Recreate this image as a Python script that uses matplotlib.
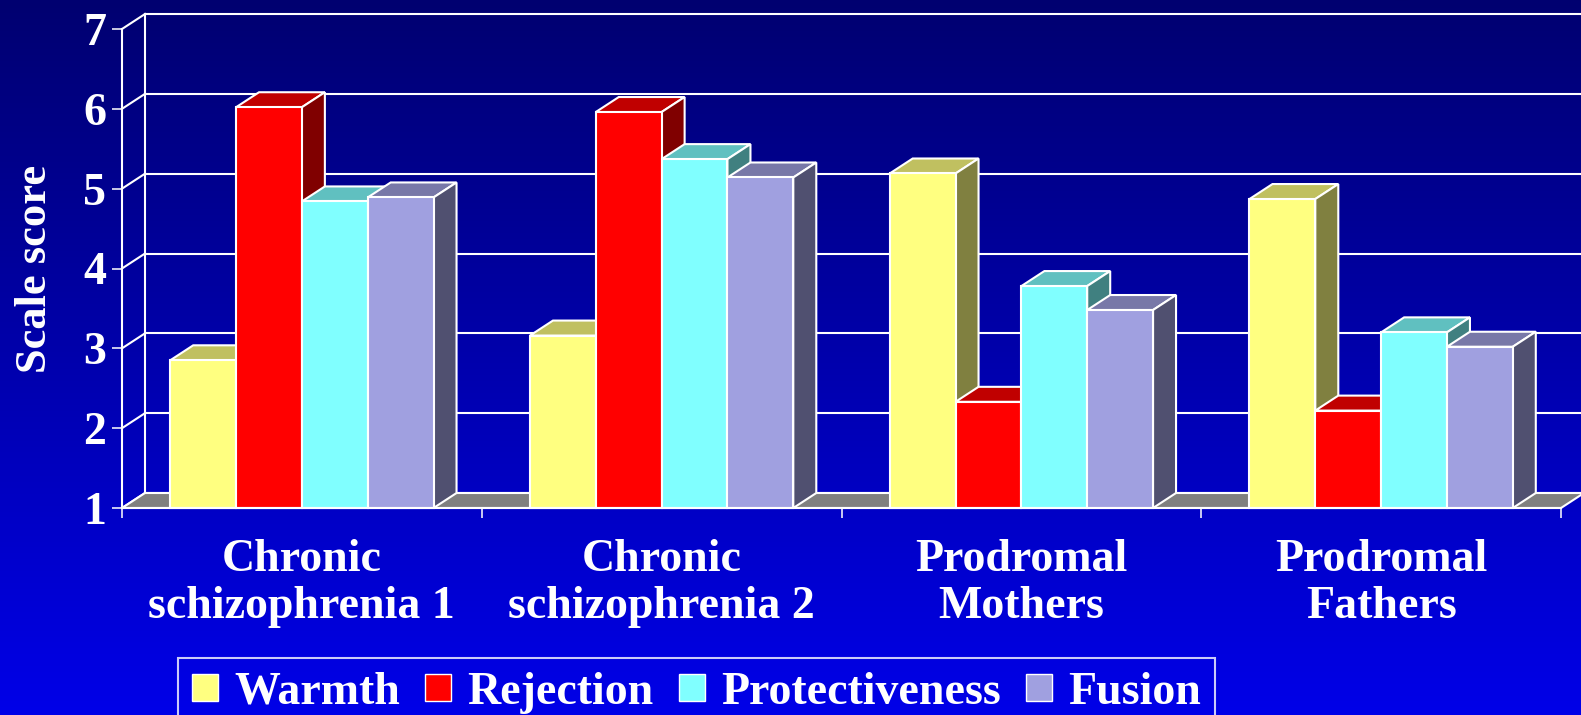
import matplotlib.pyplot as plt
import numpy as np
from matplotlib.patches import Polygon, Patch

plt.rcParams['font.family'] = 'Liberation Serif'
plt.rcParams['font.weight'] = 'bold'

# Data
groups = ["Chronic\nschizophrenia 1", "Chronic\nschizophrenia 2",
          "Prodromal\nMothers", "Prodromal\nFathers"]
scales = ["Warmth", "Rejection", "Protectiveness", "Fusion"]
warmth = [2.85, 3.16, 5.19, 4.87]
rejection = [6.02, 5.96, 2.33, 2.22]
protectiveness = [4.84, 5.37, 3.78, 3.20]
fusion = [4.89, 5.14, 3.48, 3.02]
yticks = [1, 2, 3, 4, 5, 6, 7]

series = [warmth, rejection, protectiveness, fusion]

# face shades for the pseudo-3D boxes
front_colors = ["#FFFF80", "#FF0000", "#80FFFF", "#A0A0E0"]
top_colors = ["#C0C060", "#C00000", "#60C0C0", "#7878A8"]
side_colors = ["#808040", "#800000", "#408080", "#505070"]

fig = plt.figure(figsize=(15.81, 7.15), dpi=100)

# blue gradient background
bg = fig.add_axes([0, 0, 1, 1], zorder=0)
t = np.linspace(0, 1, 256)[:, None, None]
c_top = np.array([0, 0, 0x70]) / 255
c_bot = np.array([0, 0, 0xE8]) / 255
bg.imshow(c_top + (c_bot - c_top) * t, aspect='auto', extent=[0, 1, 0, 1], origin='upper')
bg.axis('off')

ax = fig.add_axes([122 / 1581, 207 / 715, 1439 / 1581, 479 / 715], zorder=1)
ax.patch.set_alpha(0)
ax.set_xlim(0, 4)
ax.set_ylim(1, 7)

# depth offset of the back plane, in data units
dx = 23 / 1439 * 4
dy = 15 / 479 * 6
lw = 1.5

# back wall gridlines, left wall diagonals
for v in yticks:
    ax.plot([dx, 4 + dx], [v + dy, v + dy], color='white', lw=lw, clip_on=False, zorder=1)
    ax.plot([0, dx], [v, v + dy], color='white', lw=lw, clip_on=False, zorder=1)
ax.plot([dx, dx], [1 + dy, 7 + dy], color='white', lw=lw, clip_on=False, zorder=1)

# floor
ax.add_patch(Polygon([(0, 1), (4, 1), (4 + dx, 1 + dy), (dx, 1 + dy)],
                     facecolor='#808080', edgecolor='white', lw=lw, clip_on=False, zorder=2))

bw = 0.183
centers = np.arange(len(groups)) + 0.5
for si, vals in enumerate(series):
    xs = centers - 2 * bw + si * bw
    bars = ax.bar(xs, np.array(vals) - 1, bw, bottom=1, align='edge',
                  color=front_colors[si], edgecolor='white', lw=lw, clip_on=False)
    for gi, (x0, v) in enumerate(zip(xs, vals)):
        z = 3 + gi * 10 + si * 2
        x1 = x0 + bw
        bars[gi].set_zorder(z + 1)
        ax.add_patch(Polygon([(x0, v), (x1, v), (x1 + dx, v + dy), (x0 + dx, v + dy)],
                             facecolor=top_colors[si], edgecolor='white', lw=lw,
                             clip_on=False, zorder=z))
        ax.add_patch(Polygon([(x1, 1), (x1, v), (x1 + dx, v + dy), (x1 + dx, 1 + dy)],
                             facecolor=side_colors[si], edgecolor='white', lw=lw,
                             clip_on=False, zorder=z))

# axes styling
for s in ['top', 'right']:
    ax.spines[s].set_visible(False)
for s in ['left', 'bottom']:
    ax.spines[s].set_color('white')
    ax.spines[s].set_linewidth(lw)
    ax.spines[s].set_zorder(50)

ax.set_yticks(yticks)
ax.tick_params(axis='y', colors='white', length=7.2, width=1.1, pad=4, labelsize=33)
ax.set_xticks(range(5), [''] * 5)
ax.tick_params(axis='x', which='major', colors='white', length=7.2, width=1.1)
ax.set_xticks(centers, groups, minor=True)
ax.tick_params(axis='x', which='minor', length=0, pad=22, labelsize=33, labelcolor='white')
for lbl in ax.get_xticklabels(minor=True):
    lbl.set_linespacing(1.18)

ax.set_ylabel('Scale score', fontsize=32, fontweight='bold', color='white', va='center')
ax.yaxis.set_label_coords((35 - 122) / 1439, 0.5)

handles = [Patch(facecolor=c, edgecolor='white', lw=1) for c in front_colors]
leg = fig.legend(handles, scales, loc='upper left', bbox_to_anchor=(178 / 1581, 1 - 658 / 715),
                 ncol=4, fontsize=33, frameon=True, fancybox=False, facecolor='none',
                 edgecolor='white', borderaxespad=0, borderpad=0.3, handlelength=0.57,
                 handleheight=0.52, handletextpad=0.35, columnspacing=0.55, labelcolor='white')
leg.get_frame().set_linewidth(lw)

fig.savefig('out.png', dpi=100)
